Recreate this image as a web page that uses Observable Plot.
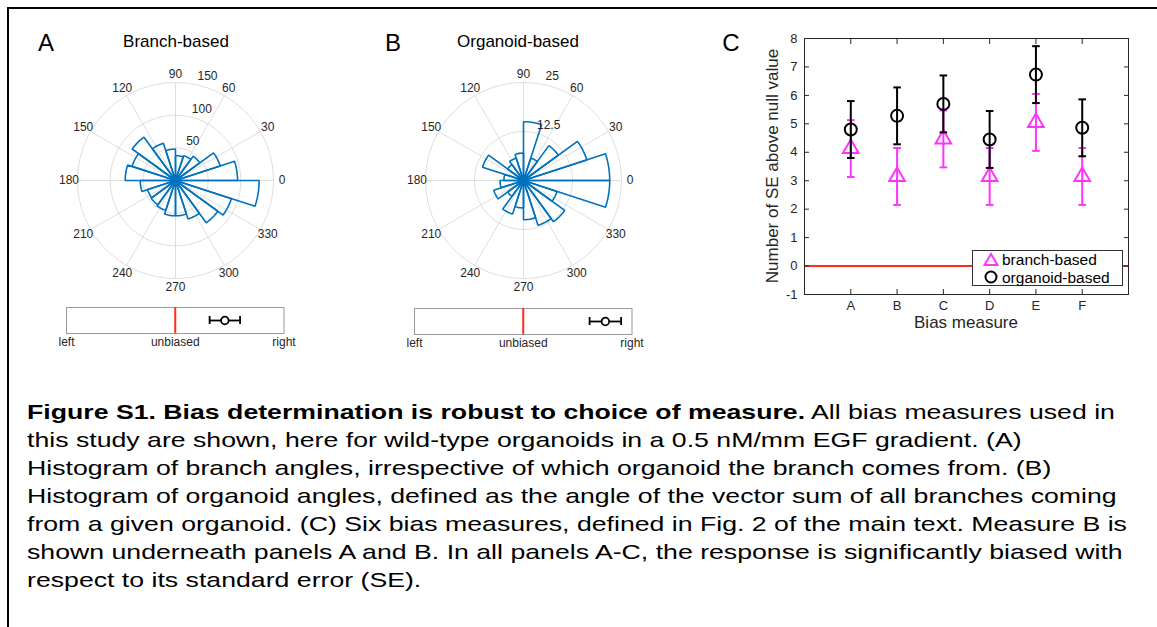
<!DOCTYPE html>
<html><head><meta charset="utf-8">
<script src="https://cdn.jsdelivr.net/npm/d3@7"></script>
<script src="https://cdn.jsdelivr.net/npm/@observablehq/plot@0.6"></script>
<style>
body{margin:0;background:#fff;font-family:"Liberation Sans",Arial,Helvetica,sans-serif;color:#262626;}
#fig{position:relative;width:1157px;height:627px;overflow:hidden;background:#fff;}
.abs{position:absolute;}
.letter{font-size:24px;color:#000;transform:translate(-50%,0);}
.ptitle{font-size:17px;color:#000;transform:translate(-50%,0);white-space:nowrap;}
#border{left:7px;top:7px;width:1200px;height:700px;border-top:2.5px solid #000;border-left:2px solid #000;}
#cap{left:27px;top:398px;font-size:21px;line-height:28px;color:#000;transform:scaleX(1.27);transform-origin:0 0;}
#cap div{white-space:pre;height:28px;}
.legend{background:#fff;border:1px solid #333;font-size:15.5px;color:#000;}
.legend div{display:flex;align-items:center;height:17.5px;white-space:nowrap;}
.legend span{line-height:17px;}
.axlab{font-size:17px;color:#262626;white-space:nowrap;}
</style></head><body><div id="fig"></div>
<script>
// ---------- data ----------
const binStartsDeg = [0,18,36,54,72,90,108,126,144,162,180,198,216,234,252,270,288,306,324,342];
const binWidthDeg = 18;
const branchCounts   = [95,72,46,40,38,48,60,82,70,77,54,45,46,48,54,54,62,80,90,128];
const organoidCounts = [22,17,11,6,15,7,6,5,11,5,6,8,5,9,7,10,12,13,9,22];
const branchRTicks = [50,100,150];
const organoidRTicks = [12.5,25];
const angleTicks = [0,30,60,90,120,150,180,210,240,270,300,330];

const biasPanels = ["Branch-based","Organoid-based"];
const biasMean = [0.456,0.755];
const biasSE = [0.14,0.145];
const biasTickPos = [-1,0,1];
const biasTickLabels = ["left","unbiased","right"];

const measures = ["A","B","C","D","E","F"];
const branchBased = [4.13,3.15,4.47,3.15,5.05,3.15];
const branchErr = [1,1,1,1,1,1];
const organoidBased = [4.80,5.28,5.70,4.45,6.73,4.86];
const organoidErr = [1,1,1,1,1,1];
const yTicksC = [-1,0,1,2,3,4,5,6,7,8];
const legendLabels = ["branch-based","organoid-based"];

const captionBold = "Figure S1. Bias determination is robust to choice of measure.";
const captionLines = [
  " All bias measures used in",
  "this study are shown, here for wild-type organoids in a 0.5 nM/mm EGF gradient. (A)",
  "Histogram of branch angles, irrespective of which organoid the branch comes from. (B)",
  "Histogram of organoid angles, defined as the angle of the vector sum of all branches coming",
  "from a given organoid. (C) Six bias measures, defined in Fig. 2 of the main text. Measure B is",
  "shown underneath panels A and B. In all panels A-C, the response is significantly biased with",
  "respect to its standard error (SE)."
];

// ---------- styles ----------
const FONT = '"Liberation Sans",Arial,Helvetica,sans-serif';
const BLUE = "#0072BD", GRID = "#dedede", RED = "#ff2d1e", MAG = "#ff33ff", INK = "#262626";
const fig = document.getElementById("fig");
function place(el, left, top){ el.style.position="absolute"; el.style.left=left+"px"; el.style.top=top+"px"; fig.appendChild(el); return el; }
function html(cls, text, left, top){ const d=document.createElement("div"); d.className="abs "+cls; d.textContent=text; d.style.left=left+"px"; d.style.top=top+"px"; fig.appendChild(d); return d; }
const rad = a => a*Math.PI/180;
const hcap = {draw(ctx, size){ const w=Math.sqrt(size/Math.PI); ctx.moveTo(-w,0); ctx.lineTo(w,0);} };

// ---------- polar histogram ----------
function polar(counts, rticks, cx, cy){
  const W=270, H=250, Rpx=98;
  const rmax = rticks[rticks.length-1];
  const k = Rpx/rmax;
  const hx = W/2/k, hy = H/2/k;
  const wedges = [];
  counts.forEach((c,i)=>{
    const a0 = rad(binStartsDeg[i]), a1 = rad(binStartsDeg[i]+binWidthDeg);
    wedges.push({bin:i,x:0,y:0});
    for(let s=0;s<=6;s++){ const a=a0+(a1-a0)*s/6; wedges.push({bin:i,x:c*Math.cos(a),y:c*Math.sin(a)}); }
  });
  const rings = [];
  rticks.forEach(r=>{ for(let t=0;t<72;t++){ const a=rad(t*5); rings.push({r,x:r*Math.cos(a),y:r*Math.sin(a)}); } });
  const labR = rmax + 8.5/k;
  const svg = Plot.plot({
    width:W, height:H, margin:0,
    x:{domain:[-hx,hx], axis:null}, y:{domain:[-hy,hy], axis:null},
    style:{fontFamily:FONT, fontSize:"12px", color:INK, background:"transparent", overflow:"visible"},
    marks:[
      Plot.line(rings,{x:"x",y:"y",z:"r",curve:"linear-closed",stroke:GRID,strokeWidth:1}),
      Plot.link(angleTicks,{x1:0,y1:0,x2:a=>rmax*Math.cos(rad(a)),y2:a=>rmax*Math.sin(rad(a)),stroke:GRID,strokeWidth:1}),
      Plot.line(wedges,{x:"x",y:"y",z:"bin",curve:"linear-closed",stroke:BLUE,strokeWidth:1.6,strokeLinejoin:"miter"}),
      Plot.text(angleTicks,{x:a=>labR*Math.cos(rad(a)),y:a=>labR*Math.sin(rad(a)),text:a=>String(a),fill:INK}),
      Plot.text(rticks,{x:r=>r*Math.cos(rad(80)),y:r=>r*Math.sin(rad(80)),text:r=>String(r),textAnchor:"start",dx:5,dy:-7.5,fill:INK})
    ]
  });
  place(svg, cx-W/2, cy-H/2);
}
polar(branchCounts, branchRTicks, 175, 180);
polar(organoidCounts, organoidRTicks, 522.7, 180);

// ---------- bias bars ----------
function biasBar(i, boxLeft, boxTop){
  const W=280, H=60, bw=217.5, bh=26, ml=30, mt=10;
  const d=[{p:biasPanels[i], m:biasMean[i], se:biasSE[i]}];
  const svg = Plot.plot({
    width:W, height:H, marginLeft:ml, marginRight:W-ml-bw, marginTop:mt, marginBottom:H-mt-bh,
    x:{domain:[-1,1]},
    y:{type:"band", domain:[biasPanels[i]], padding:0, axis:null},
    style:{fontFamily:FONT, fontSize:"12px", color:INK, background:"transparent", overflow:"visible"},
    marks:[
      Plot.frame({stroke:"#9a9a9a"}),
      Plot.ruleX([0],{stroke:RED,strokeWidth:2}),
      Plot.ruleY(d,{y:"p",x1:v=>v.m-v.se,x2:v=>v.m+v.se,stroke:"#000",strokeWidth:1.8}),
      Plot.tickX(d,{y:"p",x:v=>v.m-v.se,insetTop:9,insetBottom:9,stroke:"#000",strokeWidth:1.8}),
      Plot.tickX(d,{y:"p",x:v=>v.m+v.se,insetTop:9,insetBottom:9,stroke:"#000",strokeWidth:1.8}),
      Plot.dot(d,{y:"p",x:"m",r:3.8,stroke:"#000",fill:"#fff",strokeWidth:1.8}),
      Plot.axisX({ticks:biasTickPos,tickSize:0,tickPadding:4,tickFormat:v=>biasTickLabels[biasTickPos.indexOf(v)],label:null})
    ]
  });
  place(svg, boxLeft-ml, boxTop-mt);
}
biasBar(0, 66, 307);
biasBar(1, 413.5, 308);

// ---------- panel C ----------
const cData = measures.map((m,i)=>({pos:i+1,m,b:branchBased[i],be:branchErr[i],o:organoidBased[i],oe:organoidErr[i]}));
const posC = cData.map(d=>d.pos);
{
  const W=400,H=320, left=740, top=20;
  const frameL=804, frameR=1128, frameT=38, frameB=294;
  const svg = Plot.plot({
    width:W, height:H, marginLeft:frameL-left, marginRight:W-(frameR-left), marginTop:frameT-top, marginBottom:H-(frameB-top),
    x:{domain:[0,7]}, y:{domain:[-1,8]},
    style:{fontFamily:FONT, fontSize:"13px", color:INK, background:"transparent", overflow:"visible"},
    marks:[
      Plot.ruleY([0],{stroke:RED,strokeWidth:2}),
      Plot.ruleX(cData,{x:"pos",y1:d=>d.b-d.be,y2:d=>d.b+d.be,stroke:MAG,strokeWidth:2}),
      Plot.dot(cData,{x:"pos",y:d=>d.b-d.be,symbol:hcap,r:3.8,stroke:MAG,fill:"none",strokeWidth:2}),
      Plot.dot(cData,{x:"pos",y:d=>d.b+d.be,symbol:hcap,r:3.8,stroke:MAG,fill:"none",strokeWidth:2}),
      Plot.dot(cData,{x:"pos",y:"b",symbol:"triangle",r:5.8,stroke:MAG,fill:"none",strokeWidth:2}),
      Plot.ruleX(cData,{x:"pos",y1:d=>d.o-d.oe,y2:d=>d.o+d.oe,stroke:"#000",strokeWidth:2}),
      Plot.dot(cData,{x:"pos",y:d=>d.o-d.oe,symbol:hcap,r:3.8,stroke:"#000",fill:"none",strokeWidth:2}),
      Plot.dot(cData,{x:"pos",y:d=>d.o+d.oe,symbol:hcap,r:3.8,stroke:"#000",fill:"none",strokeWidth:2}),
      Plot.dot(cData,{x:"pos",y:"o",symbol:"circle",r:6,stroke:"#000",fill:"none",strokeWidth:2}),
      Plot.axisY({ticks:yTicksC,tickSize:-5,tickPadding:12,label:null,tickFormat:d=>String(d)}),
      Plot.axisY({anchor:"right",ticks:yTicksC,tickSize:-5,label:null,tickFormat:()=>""}),
      Plot.axisX({ticks:posC,tickSize:-5,tickPadding:11,label:null,tickFormat:p=>measures[p-1]}),
      Plot.axisX({anchor:"top",ticks:posC,tickSize:-5,label:null,tickFormat:()=>""}),
      Plot.frame({stroke:INK,strokeWidth:1})
    ]
  });
  place(svg, left, top);
  const yl = html("axlab","Number of SE above null value",773,166);
  yl.style.transform="translate(-50%,-50%) rotate(-90deg)";
  const xl = html("axlab","Bias measure",966,322);
  xl.style.transform="translate(-50%,-50%)";
  xl.style.lineHeight="17px";
  // legend
  const lg = document.createElement("div"); lg.className="legend";
  lg.style.width="151px"; lg.style.height="36px"; lg.style.boxSizing="border-box"; lg.style.padding="0 0 0 9px";
  const syms = [
    `<svg width="18" height="16"><path d="M9,2 L15.5,13 L2.5,13 Z" fill="none" stroke="${MAG}" stroke-width="2"/></svg>`,
    `<svg width="18" height="16"><circle cx="9" cy="8" r="5.5" fill="none" stroke="#000" stroke-width="2"/></svg>`
  ];
  legendLabels.forEach((t,i)=>{ const r=document.createElement("div"); r.innerHTML=syms[i]+`<span style="margin-left:2px">${t}</span>`; lg.appendChild(r); });
  place(lg, 972, 250);
}

// ---------- text ----------
html("letter","A",46,29); html("ptitle","Branch-based",176,32);
html("letter","B",393,29); html("ptitle","Organoid-based",518,32);
html("letter","C",731,29);
const cap = document.createElement("div"); cap.className="abs"; cap.id="cap";
captionLines.forEach((t,i)=>{
  const line = document.createElement("div");
  if(i===0){ const bb=document.createElement("b"); bb.textContent=captionBold; line.appendChild(bb); const s=document.createElement("span"); s.textContent=t; line.appendChild(s); }
  else line.textContent=t;
  cap.appendChild(line);
});
fig.appendChild(cap);
const b = document.createElement("div"); b.className="abs"; b.id="border"; fig.appendChild(b);
</script></body></html>
